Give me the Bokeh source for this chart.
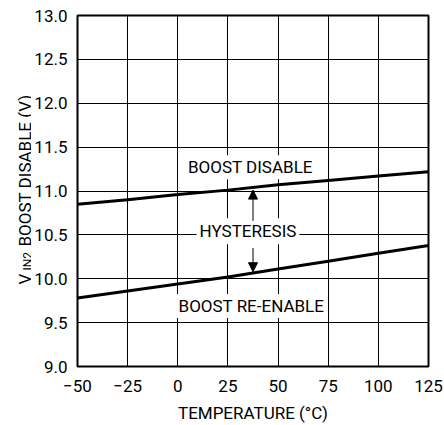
import math
from bokeh.plotting import figure
from bokeh.layouts import row
from bokeh.models import Label, Arrow, NormalHead, FixedTicker
from bokeh.embed import file_html
from bokeh.resources import INLINE

# ---- data ----
temps = [-50, -25, 0, 25, 50, 75, 100, 125]
boost_disable = [10.85, 10.90, 10.96, 11.01, 11.07, 11.12, 11.17, 11.22]
boost_reenable = [9.78, 9.86, 9.94, 10.02, 10.11, 10.20, 10.29, 10.38]
x_ticks = [-50, -25, 0, 25, 50, 75, 100, 125]
x_tick_labels = ["\u221250", "\u221225", "0", "25", "50", "75", "100", "125"]
y_ticks = [9.0, 9.5, 10.0, 10.5, 11.0, 11.5, 12.0, 12.5, 13.0]
y_tick_labels = ["9.0", "9.5", "10.0", "10.5", "11.0", "11.5", "12.0", "12.5", "13.0"]

FONT = "Roboto"
FS = "17px"

def mk(x, y, text, **kw):
    d = dict(text_font=FONT, text_font_size=FS, text_color="black",
             text_align="center", text_baseline="middle")
    d.update(kw)
    return Label(x=x, y=y, text=text, **d)

# ---- narrow strip holding the rotated y-axis title (with subscript) ----
LW = 31
side = figure(width=LW, height=425, output_backend="svg", toolbar_location=None,
              min_border=0, x_axis_type=None, y_axis_type=None)
side.outline_line_color = None
side.grid.visible = False
side.background_fill_color = "white"
side.border_fill_color = "white"
ang = math.pi / 2
side.add_layout(mk(24, 82, "V", angle=ang, text_align="left", text_baseline="alphabetic",
                   x_units="screen", y_units="screen"))
side.add_layout(mk(27, 96, "IN2", angle=ang, text_align="left", text_baseline="alphabetic",
                   text_font_size="12px", x_units="screen", y_units="screen"))
side.add_layout(mk(24, 120, "BOOST DISABLE (V)", angle=ang, text_align="left",
                   text_baseline="alphabetic", x_units="screen", y_units="screen"))

# ---- main chart ----
p = figure(width=444 - LW, height=425, frame_width=351, frame_height=351,
           x_range=(-50, 125), y_range=(9.0, 13.0),
           output_backend="svg", toolbar_location=None,
           min_border_left=77 - LW, min_border_top=15, min_border_right=16, min_border_bottom=59)
p.background_fill_color = "white"
p.border_fill_color = "white"
p.outline_line_color = "black"
p.outline_line_width = 2

p.xaxis.ticker = FixedTicker(ticks=x_ticks)
p.yaxis.ticker = FixedTicker(ticks=y_ticks)
p.xaxis.major_label_overrides = {t: l for t, l in zip(x_ticks, x_tick_labels)}
p.yaxis.major_label_overrides = {t: l for t, l in zip(y_ticks, y_tick_labels)}
for ax in (p.xaxis[0], p.yaxis[0]):
    ax.axis_line_color = None
    ax.major_tick_line_color = None
    ax.minor_tick_line_color = None
    ax.major_tick_out = 0
    ax.major_tick_in = 0
    ax.major_label_text_font = FONT
    ax.major_label_text_font_size = FS
    ax.major_label_text_color = "black"
    ax.axis_label_text_font = FONT
    ax.axis_label_text_font_size = FS
    ax.axis_label_text_font_style = "normal"
    ax.axis_label_text_color = "black"
p.xaxis.major_label_standoff = 13
p.yaxis.major_label_standoff = 10
p.xaxis.axis_label = "TEMPERATURE (\u00b0C)"
p.xaxis.axis_label_standoff = 8

p.grid.grid_line_color = "black"
p.grid.grid_line_width = 1
p.grid.grid_line_alpha = 1.0

p.line(temps, boost_disable, line_width=3, line_color="black")
p.line(temps, boost_reenable, line_width=3, line_color="black")

p.add_layout(mk(36.2, 11.27, "BOOST DISABLE", background_fill_color="white", padding=2))
p.add_layout(mk(35.0, 10.54, "HYSTERESIS", background_fill_color="white", padding=3))
p.add_layout(mk(36.7, 9.69, "BOOST RE-ENABLE", background_fill_color="white", padding=2))

p.add_layout(Arrow(end=NormalHead(size=9, fill_color="black", line_color="black"),
                   x_start=37.5, y_start=10.66, x_end=37.5, y_end=11.01,
                   line_color="black", line_width=1))
p.add_layout(Arrow(end=NormalHead(size=9, fill_color="black", line_color="black"),
                   x_start=37.5, y_start=10.35, x_end=37.5, y_end=10.08,
                   line_color="black", line_width=1))

layout = row(side, p, spacing=0)
open("out.html", "w").write(file_html(layout, INLINE))
